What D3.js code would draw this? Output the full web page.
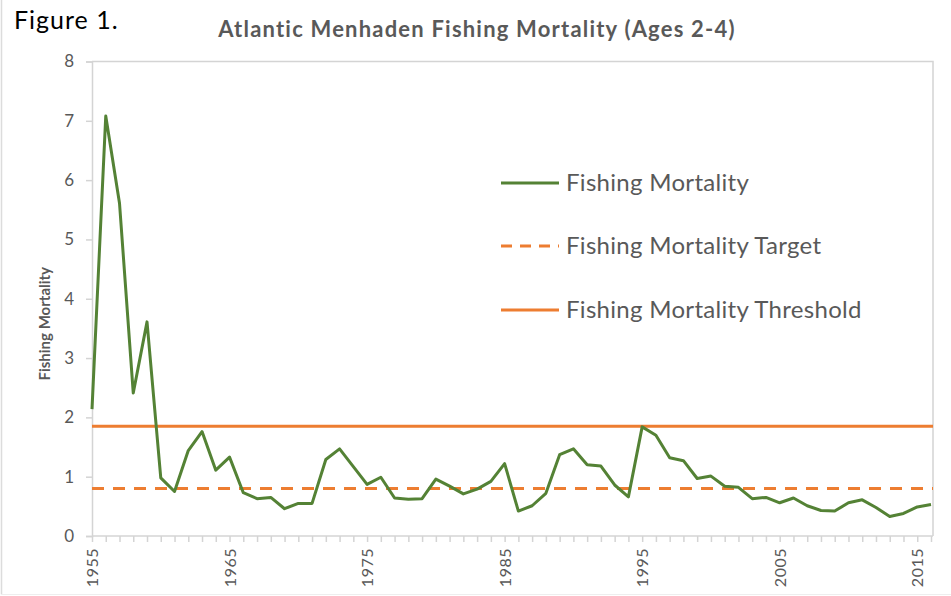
<!DOCTYPE html>
<html>
<head>
<meta charset="utf-8">
<script src="https://cdn.jsdelivr.net/npm/d3@7"></script>
<style>
    body { margin: 0; background: #fff; }
    svg text { font-family: Lato, "Open Sans", sans-serif; }
</style>
</head>
<body>
<div id="chart"></div>
<script>
// data
const years = d3.range(1955, 2017);
const mortality = [
    2.14, 7.08, 5.61, 2.41, 3.61, 0.98, 0.75, 1.44, 1.76, 1.11,
    1.33, 0.73, 0.63, 0.65, 0.46, 0.55, 0.55, 1.29, 1.47, 1.17,
    0.87, 0.99, 0.64, 0.62, 0.63, 0.96, 0.84, 0.71, 0.79, 0.92,
    1.22, 0.42, 0.51, 0.72, 1.37, 1.47, 1.20, 1.18, 0.86, 0.66,
    1.84, 1.70, 1.32, 1.27, 0.97, 1.01, 0.84, 0.82, 0.63, 0.65,
    0.56, 0.64, 0.51, 0.43, 0.42, 0.56, 0.61, 0.48, 0.33, 0.38,
    0.49, 0.53
];
const target = 0.8;
const threshold = 1.85;
const yTicks = [0, 1, 2, 3, 4, 5, 6, 7, 8];
const xLabelYears = [1955, 1965, 1975, 1985, 1995, 2005, 2015];
const legendNames = ["Fishing Mortality", "Fishing Mortality Target", "Fishing Mortality Threshold"];

const W = 951, H = 596;
const green = "#548235", orange = "#ED7D31", axisCol = "#d4d4d4", textCol = "#595959";

const svg = d3.select("#chart")
    .append("svg")
    .attr("width", W)
    .attr("height", H);

// outer frame (left + bottom visible in the screenshot)
svg.append("line").attr("x1", 1.5).attr("x2", 1.5).attr("y1", 0).attr("y2", 594.5)
    .attr("stroke", "#dcdcdc").attr("stroke-width", 1.5);
svg.append("line").attr("x1", 1.5).attr("x2", W).attr("y1", 594.5).attr("y2", 594.5)
    .attr("stroke", "#eeeeee").attr("stroke-width", 1);

const x = d3.scaleLinear().domain([1955, 2016]).range([92, 931]);
const y = d3.scaleLinear().domain([0, 8]).range([536, 61.5]);
const right = 933;

// plot area border (top + right)
svg.append("path")
    .attr("d", `M${x(1955)},${y(8)}H${right}V${y(0)}`)
    .attr("fill", "none")
    .attr("stroke", axisCol)
    .attr("stroke-width", 1.5);

// y axis
const yAxis = svg.append("g")
    .attr("transform", `translate(${x(1955)},0)`)
    .call(d3.axisLeft(y).tickValues(yTicks).tickSize(6).tickPadding(12).tickFormat(d3.format("d")));
yAxis.select(".domain").attr("stroke", axisCol).attr("stroke-width", 1.5);
yAxis.selectAll(".tick line").attr("stroke", axisCol).attr("stroke-width", 1.5);
yAxis.selectAll("text").attr("fill", textCol).style("font-size", "17px");

// x axis: tick per year, labels every ten years
const xAxis = svg.append("g")
    .attr("transform", `translate(0,${y(0)})`)
    .call(d3.axisBottom(x).tickValues(years).tickSize(6).tickFormat(""));
xAxis.select(".domain").attr("d", `M${x(1955)},0H${right}`).attr("stroke", axisCol).attr("stroke-width", 1.5);
xAxis.selectAll(".tick line").attr("stroke", axisCol).attr("stroke-width", 1.5);

svg.append("g")
    .selectAll("text")
    .data(xLabelYears)
    .join("text")
    .attr("transform", d => `translate(${x(d) + 6},${y(0) + 12}) rotate(-90)`)
    .attr("text-anchor", "end")
    .attr("fill", textCol)
    .style("font-size", "16px")
    .style("letter-spacing", "0.5px")
    .text(d => d);

// reference lines
svg.append("line")
    .attr("x1", x(1955)).attr("x2", right)
    .attr("y1", y(threshold)).attr("y2", y(threshold))
    .attr("stroke", orange).attr("stroke-width", 3);
svg.append("line")
    .attr("x1", x(1955)).attr("x2", right)
    .attr("y1", y(target)).attr("y2", y(target))
    .attr("stroke", orange).attr("stroke-width", 3)
    .attr("stroke-dasharray", "12,9");

// mortality series
const line = d3.line()
    .x((d, i) => x(years[i]))
    .y(d => y(d));
svg.append("path")
    .datum(mortality)
    .attr("fill", "none")
    .attr("stroke", green)
    .attr("stroke-width", 3)
    .attr("stroke-linejoin", "round")
    .attr("d", line);

// titles
svg.append("text")
    .attr("x", 14).attr("y", 29)
    .attr("fill", "#000")
    .style("font-size", "25px")
    .style("letter-spacing", "1px")
    .text("Figure 1.");

svg.append("text")
    .attr("x", 477).attr("y", 37)
    .attr("text-anchor", "middle")
    .attr("fill", textCol)
    .style("font-size", "22px")
    .style("letter-spacing", "1.2px")
    .style("font-weight", "bold")
    .text("Atlantic Menhaden Fishing Mortality (Ages 2-4)");

svg.append("text")
    .attr("transform", `translate(50,${(y(0) + y(8)) / 2 + 25}) rotate(-90)`)
    .attr("text-anchor", "middle")
    .attr("fill", textCol)
    .style("font-size", "15px")
    .style("font-weight", "bold")
    .text("Fishing Mortality");

// legend
const legendY = [183, 246, 310];
const legend = svg.append("g");
legendNames.forEach((name, i) => {
    legend.append("line")
        .attr("x1", 501).attr("x2", 559)
        .attr("y1", legendY[i]).attr("y2", legendY[i])
        .attr("stroke", i === 0 ? green : orange)
        .attr("stroke-width", 3)
        .attr("stroke-dasharray", i === 1 ? "11,8" : null);
    legend.append("text")
        .attr("x", 566).attr("y", legendY[i] + 8)
        .attr("fill", textCol)
        .style("font-size", "24px")
        .style("letter-spacing", "0.3px")
        .text(name);
});
</script>
</body>
</html>
